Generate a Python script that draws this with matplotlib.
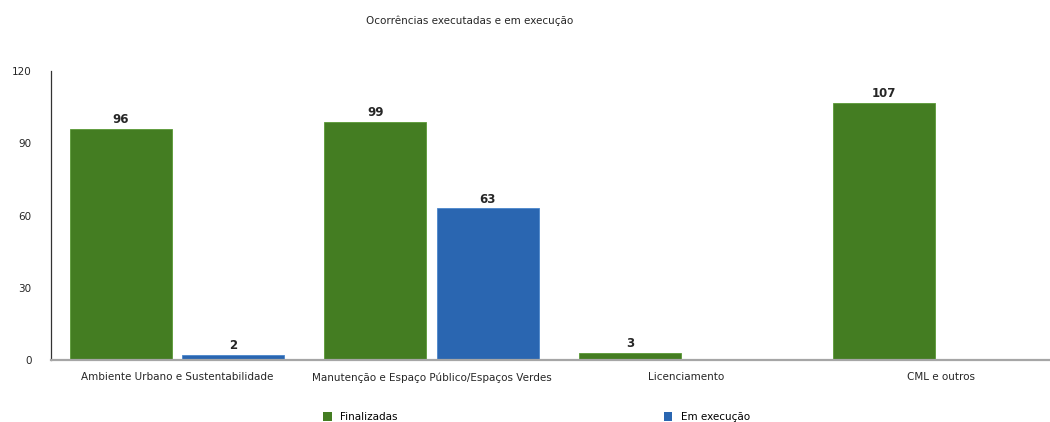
import numpy as np
import matplotlib
matplotlib.use("Agg")
import matplotlib.pyplot as plt
from matplotlib.patches import Patch

plt.rcParams['font.family'] = ['DejaVu Sans']

categories = ["Ambiente Urbano e Sustentabilidade",
              "Manutenção e Espaço Público/Espaços Verdes",
              "Licenciamento",
              "CML e outros"]
finalizadas = [96, 99, 3, 107]
em_execucao = [2, 63, None, None]
series_names = ["Finalizadas", "Em execução"]

green = "#447d22"
blue = "#2a66b1"
text_col = "#262626"

fig = plt.figure(figsize=(10.5, 4.22), dpi=100)
ax = fig.add_axes([0.0486, 0.147, 0.9514, 0.684])

x = np.arange(len(categories))
w = 0.40
off = 0.221

for i, v in enumerate(finalizadas):
    if v is None:
        continue
    ax.bar(x[i] - off, v, width=w, color=green, edgecolor="#5a9a36", linewidth=0.6, zorder=2)
    ax.text(x[i] - off, v + 1.2, str(v), ha="center", va="bottom",
            fontsize=8.5, color=text_col, fontweight="bold")

for i, v in enumerate(em_execucao):
    if v is None:
        continue
    ax.bar(x[i] + off, v, width=w, color=blue, edgecolor="#4a86cc", linewidth=0.6, zorder=2)
    ax.text(x[i] + off, v + 1.2, str(v), ha="center", va="bottom",
            fontsize=8.5, color=text_col, fontweight="bold")

ax.set_xlim(-0.495, 3.43)
ax.set_ylim(0, 120)
ax.set_yticks([0, 30, 60, 90, 120])
ax.set_xticks(x)
ax.set_xticklabels(categories, fontsize=7.5, color=text_col)
ax.tick_params(axis="both", length=0, labelsize=7.5, colors=text_col)
ax.tick_params(axis="x", pad=9)
ax.tick_params(axis="y", pad=14)

for s in ["top", "right"]:
    ax.spines[s].set_visible(False)
ax.spines["left"].set_color("#333333")
ax.spines["left"].set_linewidth(0.9)
ax.spines["bottom"].set_color("#a6a6a6")
ax.spines["bottom"].set_linewidth(1.6)

fig.text(0.447, 0.952, "Ocorrências executadas e em execução", ha="center", va="center",
         fontsize=7.5, color=text_col)

handles = [Patch(facecolor=green), Patch(facecolor=blue)]
fig.legend(handles, series_names, loc="center", bbox_to_anchor=(0.511, 0.012),
           ncol=2, frameon=False, fontsize=7.5, handlelength=0.8, handleheight=0.9,
           handletextpad=0.8, columnspacing=25.6)

fig.savefig("out.png", dpi=100)
